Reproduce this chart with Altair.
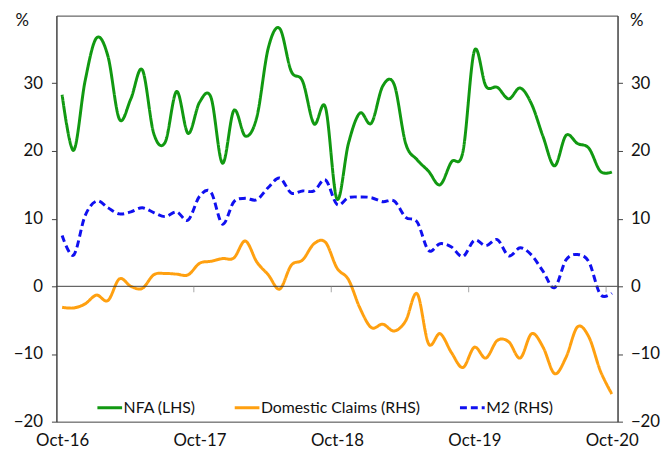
import altair as alt
import pandas as pd

x_labels = ["Oct-16", "Oct-17", "Oct-18", "Oct-19", "Oct-20"]
series_names = ["NFA (LHS)", "Domestic Claims (RHS)", "M2 (RHS)"]
colors = ["#119911", "#ffa010", "#1010f0"]
y_ticks = [-20, -10, 0, 10, 20, 30]

nfa = [28.3, 20.1, 30.3, 36.7, 34.0, 24.7, 27.7, 32.0, 22.6, 21.3,
       28.8, 22.6, 27.2, 27.9, 18.2, 26.0, 22.2, 25.0, 35.2, 38.1,
       31.8, 30.3, 24.0, 26.4, 12.9, 21.1, 25.6, 24.1, 29.6, 29.8,
       21.1, 18.7, 17.0, 15.0, 18.4, 19.9, 34.8, 29.6, 29.4, 27.7,
       29.3, 26.9, 22.1, 17.8, 22.3, 21.1, 20.4, 17.0, 16.9]
dom = [-3.1, -3.2, -2.6, -1.3, -2.1, 1.1, 0.0, -0.3, 1.7, 1.9,
       1.8, 1.7, 3.4, 3.7, 4.1, 4.2, 6.7, 3.6, 1.7, -0.4,
       3.1, 3.9, 6.3, 6.5, 2.7, 1.0, -3.2, -6.1, -5.6, -6.6,
       -5.1, -1.1, -8.5, -7.0, -9.8, -12.0, -9.0, -10.6, -8.0, -8.2,
       -10.6, -7.0, -9.0, -12.9, -10.5, -6.0, -7.5, -12.5, -15.9]
m2 = [7.5, 4.6, 10.4, 12.6, 11.6, 10.7, 11.0, 11.6, 10.9, 10.3,
      11.0, 9.8, 13.3, 13.9, 9.2, 12.5, 13.0, 12.8, 14.6, 16.0,
      13.8, 14.1, 14.1, 15.7, 12.1, 13.1, 13.2, 13.1, 12.5, 12.6,
      10.2, 9.5, 5.3, 6.3, 5.8, 4.4, 6.8, 6.0, 6.9, 4.5,
      5.7, 4.6, 2.2, -0.2, 3.9, 4.7, 3.6, -1.2, -1.0]

rows = []
for name, vals in zip(series_names, [nfa, dom, m2]):
    for t, v in enumerate(vals):
        rows.append({"t": t, "value": v, "series": name})
df = pd.DataFrame(rows)

n = len(nfa)
label_vals = [12 * i for i in range(len(x_labels))]
label_expr = "[" + ",".join(f"'{s}'" for s in x_labels) + "][round(datum.value/12)]"

FONT = "Lato"
xscale = alt.Scale(domain=[-0.5, n - 0.5], nice=False, zero=False)
yscale = alt.Scale(domain=[-20, 40], nice=False, zero=False)

x_axis = alt.Axis(values=label_vals, labelExpr=label_expr, ticks=False,
                  domain=False, grid=False, title=None, labelPadding=11,
                  labelFlush=False)

legend = alt.Legend(
    title=None, orient="none", legendX=40, legendY=383, direction="horizontal",
    symbolType="stroke", symbolSize=625, symbolStrokeWidth=3,
    labelFont=FONT, labelFontSize=16, labelColor="#111", labelOffset=0,
    columnPadding=33, padding=0, labelLimit=0,
)

lines = alt.Chart(df).mark_line(interpolate="cardinal", strokeWidth=3).encode(
    x=alt.X("t:Q", scale=xscale, axis=x_axis),
    y=alt.Y("value:Q", scale=yscale,
            axis=alt.Axis(orient="left", values=y_ticks, grid=False, title="%",
                          titleAngle=0, titleX=-35, titleY=5, titleAlign="center",
                          titleBaseline="middle", labelPadding=9)),
    color=alt.Color("series:N", scale=alt.Scale(domain=series_names, range=colors),
                    legend=legend),
    strokeDash=alt.StrokeDash("series:N",
                              scale=alt.Scale(domain=series_names,
                                              range=[[1, 0], [1, 0], [7, 4]]),
                              legend=legend),
)

zero = alt.Chart(pd.DataFrame({"y": [0]})).mark_rule(color="#404040", strokeWidth=1).encode(
    y=alt.Y("y:Q", scale=yscale,
            axis=alt.Axis(orient="right", values=y_ticks, grid=False, title="%",
                          titleAngle=0, titleX=19, titleY=5, titleAlign="center",
                          titleBaseline="middle", labelPadding=8)),
)

tick_df = pd.DataFrame({"t": [v - 0.5 for v in label_vals[1:]], "y": [0] * (len(label_vals) - 1)})
xticks = alt.Chart(tick_df).mark_tick(orient="vertical", size=6, thickness=1, yOffset=3,
                                      color="#808080").encode(
    x=alt.X("t:Q", scale=xscale, axis=x_axis),
    y=alt.Y("y:Q", scale=yscale, axis=None),
)

chart = alt.layer(lines, zero, xticks).resolve_scale(y="independent").properties(
    width=568, height=411,
    autosize=alt.AutoSizeParams(type="none"),
    padding={"left": 49, "top": 5, "right": 45, "bottom": 29},
).configure_view(
    stroke="#404040", strokeWidth=1
).configure_axis(
    labelFont=FONT, labelFontSize=17, labelColor="#111",
    titleFont=FONT, titleFontSize=17, titleColor="#111", titleFontWeight="normal",
    domainColor="#404040", tickColor="#404040", tickSize=5,
)

chart.save("out.html", embed_options={"renderer": "svg", "actions": False})
